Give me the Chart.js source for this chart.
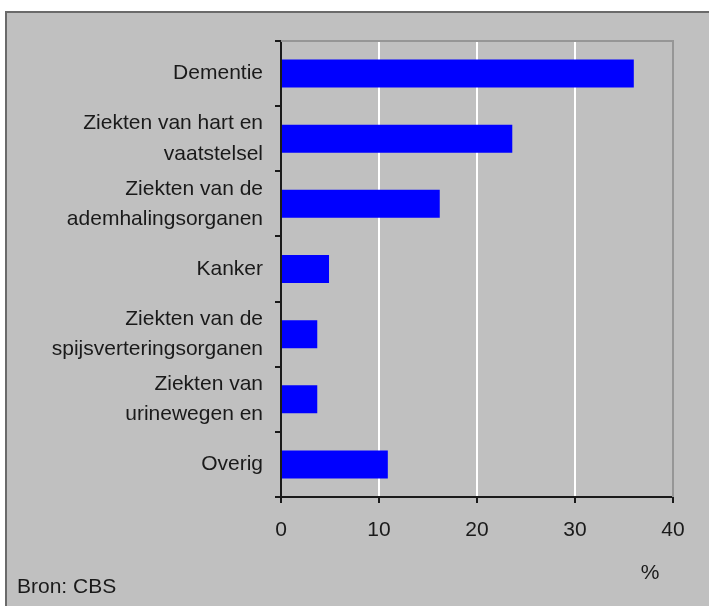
<!DOCTYPE html>
<html>
<head>
<meta charset="utf-8">
<script src="https://cdn.jsdelivr.net/npm/chart.js@4/dist/chart.umd.min.js"></script>
<style>
  html, body { margin: 0; padding: 0; background: #ffffff; }
  #wrap { width: 709px; height: 606px; }
</style>
</head>
<body>
<div id="wrap"><canvas id="c" width="709" height="606"></canvas></div>
<script>
const categories = [
  "Dementie",
  ["Ziekten van hart en", "vaatstelsel"],
  ["Ziekten van de", "ademhalingsorganen"],
  "Kanker",
  ["Ziekten van de", "spijsverteringsorganen"],
  ["Ziekten van", "urinewegen en"],
  "Overig"
];
const values = [36.0, 23.6, 16.2, 4.9, 3.7, 3.7, 10.9];
const xTicks = [0, 10, 20, 30, 40];
const unitLabel = "%";
const sourceLabel = "Bron: CBS";

const FONT = "'Liberation Sans', Arial, sans-serif";
const TXT = "#1a1a1a";

const framePlugin = {
  id: 'frame',
  beforeDraw(chart) {
    const ctx = chart.ctx;
    ctx.save();
    ctx.fillStyle = '#ffffff';
    ctx.fillRect(0, 0, chart.width, chart.height);
    ctx.fillStyle = '#c0c0c0';
    ctx.fillRect(6, 11, chart.width - 6, chart.height - 11);
    ctx.strokeStyle = '#6a6a6a';
    ctx.lineWidth = 2;
    ctx.beginPath();
    ctx.moveTo(6, chart.height);
    ctx.lineTo(6, 12);
    ctx.lineTo(chart.width, 12);
    ctx.stroke();
    ctx.restore();
  },
  afterDraw(chart) {
    const ctx = chart.ctx;
    const a = chart.chartArea;
    ctx.save();
    ctx.strokeStyle = '#969696';
    ctx.lineWidth = 2;
    ctx.beginPath();
    ctx.moveTo(a.left, a.top);
    ctx.lineTo(a.right, a.top);
    ctx.lineTo(a.right, a.bottom);
    ctx.stroke();
    ctx.fillStyle = TXT;
    ctx.font = "21px " + FONT;
    ctx.textBaseline = 'middle';
    ctx.textAlign = 'center';
    ctx.fillText(unitLabel, a.right - 23, a.bottom + 76);
    ctx.textAlign = 'left';
    ctx.fillText(sourceLabel, 17, a.bottom + 90);
    ctx.restore();
  }
};

new Chart(document.getElementById('c'), {
  type: 'bar',
  data: {
    labels: categories,
    datasets: [{
      data: values,
      backgroundColor: '#0000ff',
      borderWidth: 0,
      barPercentage: 0.43,
      categoryPercentage: 1.0
    }]
  },
  options: {
    indexAxis: 'y',
    responsive: false,
    animation: false,
    layout: { padding: { left: 0, top: 41, right: 36, bottom: 0 } },
    plugins: { legend: { display: false }, tooltip: { enabled: false } },
    scales: {
      x: {
        min: 0, max: 40,
        afterBuildTicks(scale) { scale.ticks = xTicks.map(v => ({ value: v })); },
        afterFit(scale) { scale.height = 109; },
        border: { display: true, color: '#1a1a1a', width: 2 },
        grid: {
          drawOnChartArea: true,
          drawTicks: true,
          tickLength: 6,
          tickColor: '#1a1a1a',
          lineWidth: 2,
          color: (c) => (c.tick && c.tick.value > 0 && c.tick.value < 40) ? '#ffffff' : 'rgba(0,0,0,0)'
        },
        ticks: {
          color: TXT,
          font: { family: FONT, size: 21 },
          padding: 15,
          maxRotation: 0
        }
      },
      y: {
        afterFit(scale) { scale.width = 281; },
        border: { display: true, color: '#1a1a1a', width: 2 },
        grid: {
          offset: true,
          drawOnChartArea: false,
          drawTicks: true,
          tickLength: 6,
          tickColor: '#1a1a1a',
          lineWidth: 2
        },
        ticks: {
          color: TXT,
          font: { family: FONT, size: 21, lineHeight: 1.43 },
          padding: 12,
          crossAlign: 'near',
          autoSkip: false
        }
      }
    }
  },
  plugins: [framePlugin]
});
</script>
</body>
</html>
